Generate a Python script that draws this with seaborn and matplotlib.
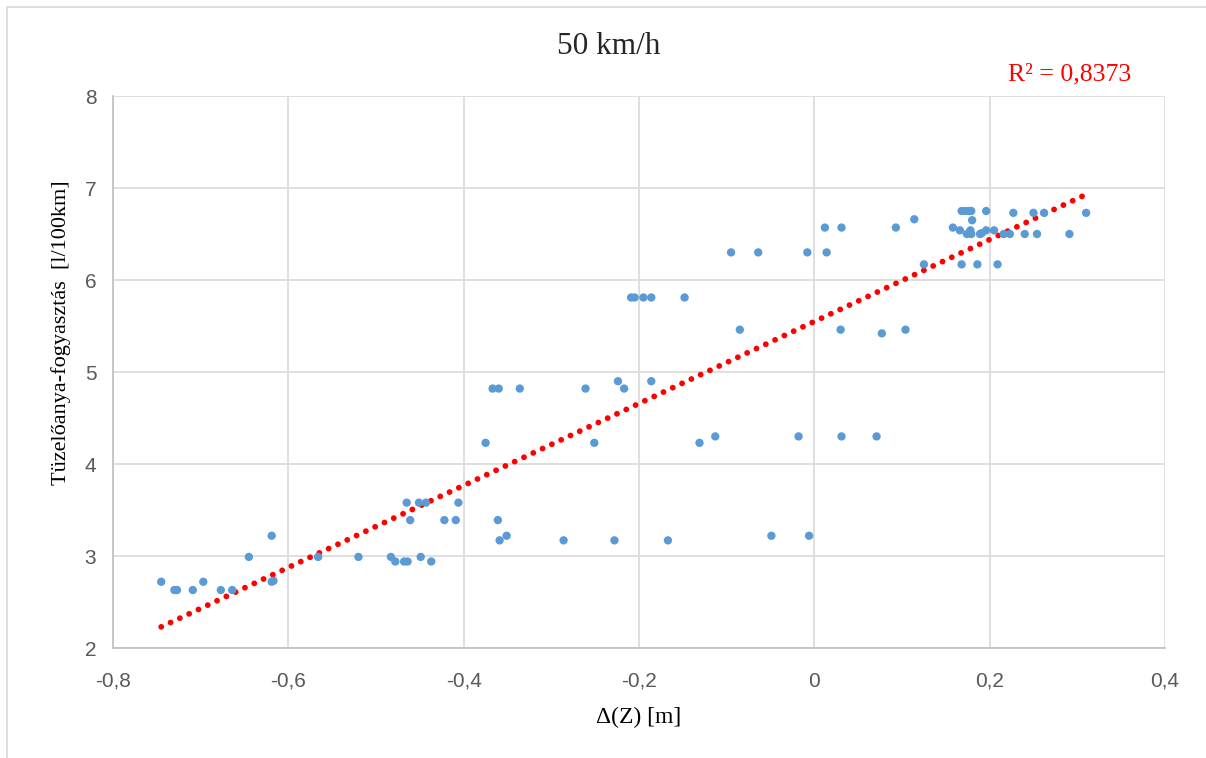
import numpy as np
import pandas as pd
import matplotlib
matplotlib.use("Agg")
import matplotlib.pyplot as plt
import seaborn as sns
from matplotlib.patches import Rectangle

delta_z = [-0.745, -0.730, -0.727, -0.709, -0.697, -0.677, -0.664, -0.645, -0.619, -0.619,
           -0.617, -0.566, -0.520, -0.483, -0.478, -0.468, -0.464, -0.449, -0.437, -0.465,
           -0.451, -0.443, -0.461, -0.422, -0.409, -0.406, -0.375, -0.367, -0.360, -0.336,
           -0.361, -0.359, -0.351, -0.286, -0.261, -0.251, -0.228, -0.224, -0.217, -0.186,
           -0.167, -0.131, -0.113, -0.049, -0.018, -0.006, 0.031, 0.071, -0.209, -0.205,
           -0.195, -0.186, -0.148, -0.085, 0.030, 0.077, 0.104, -0.095, -0.064, -0.008,
           0.014, 0.012, 0.031, 0.093, 0.114, 0.125, 0.168, 0.172, 0.176, 0.179,
           0.196, 0.180, 0.158, 0.166, 0.178, 0.178, 0.174, 0.179, 0.189, 0.191,
           0.196, 0.205, 0.216, 0.223, 0.240, 0.254, 0.291, 0.227, 0.250, 0.262,
           0.310, 0.168, 0.186, 0.209]
fuel = [2.72, 2.63, 2.63, 2.63, 2.72, 2.63, 2.63, 2.99, 3.22, 2.72,
        2.73, 2.99, 2.99, 2.99, 2.94, 2.94, 2.94, 2.99, 2.94, 3.58,
        3.58, 3.58, 3.39, 3.39, 3.39, 3.58, 4.23, 4.82, 4.82, 4.82,
        3.39, 3.17, 3.22, 3.17, 4.82, 4.23, 3.17, 4.90, 4.82, 4.90,
        3.17, 4.23, 4.30, 3.22, 4.30, 3.22, 4.30, 4.30, 5.81, 5.81,
        5.81, 5.81, 5.81, 5.46, 5.46, 5.42, 5.46, 6.30, 6.30, 6.30,
        6.30, 6.57, 6.57, 6.57, 6.66, 6.17, 6.75, 6.75, 6.75, 6.75,
        6.75, 6.65, 6.57, 6.54, 6.54, 6.51, 6.50, 6.50, 6.50, 6.51,
        6.54, 6.54, 6.50, 6.50, 6.50, 6.50, 6.50, 6.73, 6.73, 6.73,
        6.73, 6.17, 6.17, 6.17]

x_ticks = [-0.8, -0.6, -0.4, -0.2, 0.0, 0.2, 0.4]
x_tick_labels = ["-0,8", "-0,6", "-0,4", "-0,2", "0", "0,2", "0,4"]
y_ticks = [2, 3, 4, 5, 6, 7, 8]
title = "50 km/h"
r2_label = "R² = 0,8373"
x_label = "Δ(Z) [m]"
y_label = "Tüzelőanya-fogyasztás  [l/100km]"

df = pd.DataFrame({"dz": delta_z, "fuel": fuel})

sns.set_style("whitegrid")
plt.rcParams["font.family"] = ["Liberation Sans", "DejaVu Sans"]

fig = plt.figure(figsize=(12.06, 7.58), dpi=100)
ax = fig.add_axes([113/1206, 110/758, (1165-113)/1206, (648-96)/758])

sns.regplot(data=df, x="dz", y="fuel", ax=ax, scatter=False, ci=None, truncate=True,
            line_kws=dict(color="#ff0000", linewidth=4.2, linestyle=(0, (0.01, 1.75)),
                          dash_capstyle="round", solid_capstyle="round"))
sns.scatterplot(data=df, x="dz", y="fuel", ax=ax, color="#5b9bd5", s=36,
                edgecolor="none", zorder=3)

ax.set_xlim(-0.8, 0.4)
ax.set_ylim(2, 8)
ax.set_xticks(x_ticks)
ax.set_xticklabels(x_tick_labels)
ax.set_yticks(y_ticks)
ax.grid(True, color="#d9d9d9", linewidth=1.2)
ax.tick_params(axis="both", labelsize=15, colors="#595959", length=0)
ax.tick_params(axis="x", pad=17)
ax.tick_params(axis="y", pad=12)
for s in ["top", "right"]:
    ax.spines[s].set_visible(False)
for s in ["left", "bottom"]:
    ax.spines[s].set_color("#bfbfbf")
    ax.spines[s].set_linewidth(1.2)

serif = ["Liberation Serif", "DejaVu Serif"]
ax.set_xlabel(x_label, fontsize=17, family=serif, color="#000000", labelpad=12)
ax.set_ylabel(y_label, fontsize=16, family=serif, color="#000000")
ax.yaxis.set_label_coords(-0.040, 0.571)
fig.text(0.5045, 1 - 46/758, title, ha="center", va="center", fontsize=22.5, family=serif)
fig.text(1070/1206, 1 - 74/758, r2_label, ha="center", va="center", fontsize=18.5,
         family=serif, color="#ff0000")

fig.patches.append(Rectangle((7/1206, -0.1), 1.2, 1 - 7/758 + 0.1, transform=fig.transFigure,
                             fill=False, edgecolor="#d9d9d9", linewidth=1.2))

fig.savefig("out.png", dpi=100, facecolor="white")
